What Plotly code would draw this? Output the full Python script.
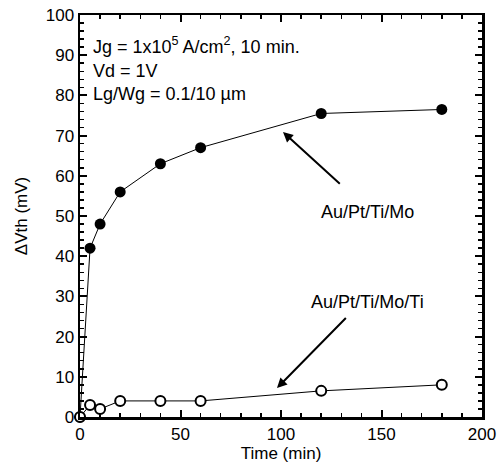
import plotly.graph_objects as go

time_mo = [0, 5, 10, 20, 40, 60, 120, 180]
dvth_mo = [0, 42, 48, 56, 63, 67, 75.5, 76.5]
time_moti = [0, 5, 10, 20, 40, 60, 120, 180]
dvth_moti = [0, 3, 2, 4, 4, 4, 6.5, 8]

x_ticks = [0, 50, 100, 150, 200]
y_ticks = [0, 10, 20, 30, 40, 50, 60, 70, 80, 90, 100]

FONT = "Arial, Liberation Sans, sans-serif"

fig = go.Figure()
fig.add_trace(go.Scatter(x=time_mo, y=dvth_mo, mode="lines+markers",
                         line=dict(color="black", width=1),
                         marker=dict(symbol="circle", size=11, color="black"),
                         cliponaxis=False, showlegend=False))
fig.add_trace(go.Scatter(x=time_moti, y=dvth_moti, mode="lines+markers",
                         line=dict(color="black", width=1),
                         marker=dict(symbol="circle", size=10, color="white",
                                     line=dict(width=2, color="black")),
                         cliponaxis=False, showlegend=False))

axis_common = dict(showline=True, linecolor="black", linewidth=2.5, mirror="ticks",
                   ticks="inside", ticklen=7, tickwidth=2, tickcolor="black",
                   showgrid=False, zeroline=False, automargin=False,
                   ticklabeloverflow="allow",
                   tickfont=dict(family=FONT, size=17, color="black"))

fig.update_xaxes(range=[0, 200], tickvals=x_ticks,
                 minor=dict(dtick=10, ticks="inside", ticklen=4, tickwidth=1.5, tickcolor="black"),
                 title=dict(text="Time (min)", font=dict(family=FONT, size=17, color="black"), standoff=0),
                 **axis_common)
fig.update_yaxes(range=[0, 100], tickvals=y_ticks,
                 minor=dict(dtick=2, ticks="inside", ticklen=4, tickwidth=1.5, tickcolor="black"),
                 title=dict(text="ΔVth (mV)", font=dict(family=FONT, size=17, color="black"), standoff=14),
                 **axis_common)

annots = [
    dict(x=5.5, y=92.5, text="Jg = 1x10<sup>5</sup> A/cm<sup>2</sup>, 10 min.", xanchor="left"),
    dict(x=5.5, y=86, text="Vd = 1V", xanchor="left"),
    dict(x=5.5, y=80.3, text="Lg/Wg = 0.1/10 µm", xanchor="left"),
    dict(x=143, y=51, text="Au/Pt/Ti/Mo", xanchor="center"),
    dict(x=143, y=28.6, text="Au/Pt/Ti/Mo/Ti", xanchor="center"),
]
for a in annots:
    fig.add_annotation(x=a["x"], y=a["y"], text=a["text"], xanchor=a["xanchor"],
                       yanchor="middle", showarrow=False,
                       font=dict(family=FONT, size=18, color="black"))

fig.add_annotation(x=101, y=70.9, ax=130, ay=57.7, axref="x", ayref="y",
                   showarrow=True, arrowhead=2, arrowsize=1, arrowwidth=2,
                   arrowcolor="black", text="")
fig.add_annotation(x=98, y=7.2, ax=133, ay=25, axref="x", ayref="y",
                   showarrow=True, arrowhead=2, arrowsize=1, arrowwidth=2,
                   arrowcolor="black", text="")

fig.update_layout(width=503, height=468, margin=dict(l=80, r=21, t=15, b=51),
                  plot_bgcolor="white", paper_bgcolor="white",
                  font=dict(family=FONT, color="black"))

fig.write_html("out.html",
               config={"displayModeBar": False, "staticPlot": True},
               post_script="document.body.style.margin='0';document.body.style.overflow='hidden';")
